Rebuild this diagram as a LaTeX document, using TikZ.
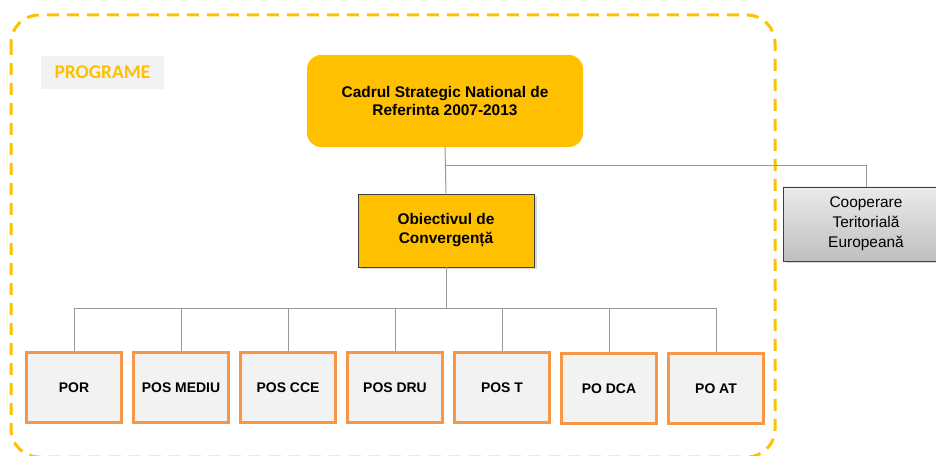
\documentclass[tikz,border=0pt]{standalone}
\usepackage{fontspec}
\setmainfont{Liberation Sans}
\newfontfamily\calibri{Carlito}
\usetikzlibrary{shadows}
\definecolor{csyellow}{HTML}{FFC000}
\definecolor{progorange}{HTML}{F79646}
\definecolor{boxgray}{HTML}{F2F2F2}
\definecolor{linkgray}{HTML}{999999}
\tikzset{
	csnr/.style={fill=csyellow, rounded corners=14bp, minimum width=276bp, minimum height=92bp, inner sep=0pt, align=center, font=\fontsize{15.5}{18}\selectfont\bfseries},
	goal/.style={draw=black!75, line width=0.8bp, fill=csyellow, minimum width=176bp, minimum height=73bp, inner sep=0pt, align=center, font=\fontsize{15.5}{19}\selectfont\bfseries, drop shadow={shadow xshift=2.5bp, shadow yshift=-2.5bp, fill=black!30}},
	coop/.style={draw=black!75, line width=0.8bp, top color=black!8, bottom color=black!25, minimum width=166bp, minimum height=74bp, inner sep=0pt, align=center, font=\fontsize{15.5}{20}\selectfont, drop shadow={shadow xshift=2.5bp, shadow yshift=-2.5bp, fill=black!30}},
	prog/.style={draw=progorange, line width=3bp, fill=boxgray, minimum width=95bp, minimum height=70bp, inner sep=0pt, font=\fontsize{14}{16}\selectfont\bfseries},
	link/.style={draw=linkgray, line width=1bp}
}
\begin{document}
\begin{tikzpicture}[x=1bp, y=-1bp]
		%%%%% START %%%%%
		\useasboundingbox (0, 0) rectangle (936, 456);
		
		\draw[csyellow, line width=3bp, dash pattern=on 12bp off 8bp, rounded corners=28bp] (11, 15) rectangle (775, 457);
		
		\node[fill=boxgray, minimum width=123bp, minimum height=33bp, inner sep=0pt, text=csyellow, font=\fontsize{19.5}{21}\calibri\bfseries] (programe) at (102.5, 72.5) {PROGRAME};
		
		\node[csnr] (cadru) at (445, 101) {Cadrul Strategic National de\\Referinta 2007-2013};
		\node[goal] (conv) at (446, 230.5) {Obiectivul de\\Convergență};
		\node[coop] (cte) at (866, 224) {Cooperare\\Teritorială\\Europeană};
		
		\coordinate (split) at (446, 166);
		\coordinate (bus) at (446, 309);
		
		\node[prog] (por) at (74, 387.5) {POR};
		\node[prog] (mediu) at (181, 387.5) {POS MEDIU};
		\node[prog] (cce) at (288, 387.5) {POS CCE};
		\node[prog] (dru) at (395, 387.5) {POS DRU};
		\node[prog] (post) at (502, 387.5) {POS T};
		\node[prog] (dca) at (609, 388.5) {PO DCA};
		\node[prog] (at) at (716, 388.5) {PO AT};
		
		\draw[link] (cadru.south) -- (conv.north);
		\draw[link] (split) -| (cte.north);
		\draw[link] (conv.south) -- (bus);
		\foreach \p in {por, mediu, cce, dru, post, dca, at}
			\draw[link] (\p.north) |- (bus);
		
		%%%%% END %%%%%
\end{tikzpicture}
\end{document}
